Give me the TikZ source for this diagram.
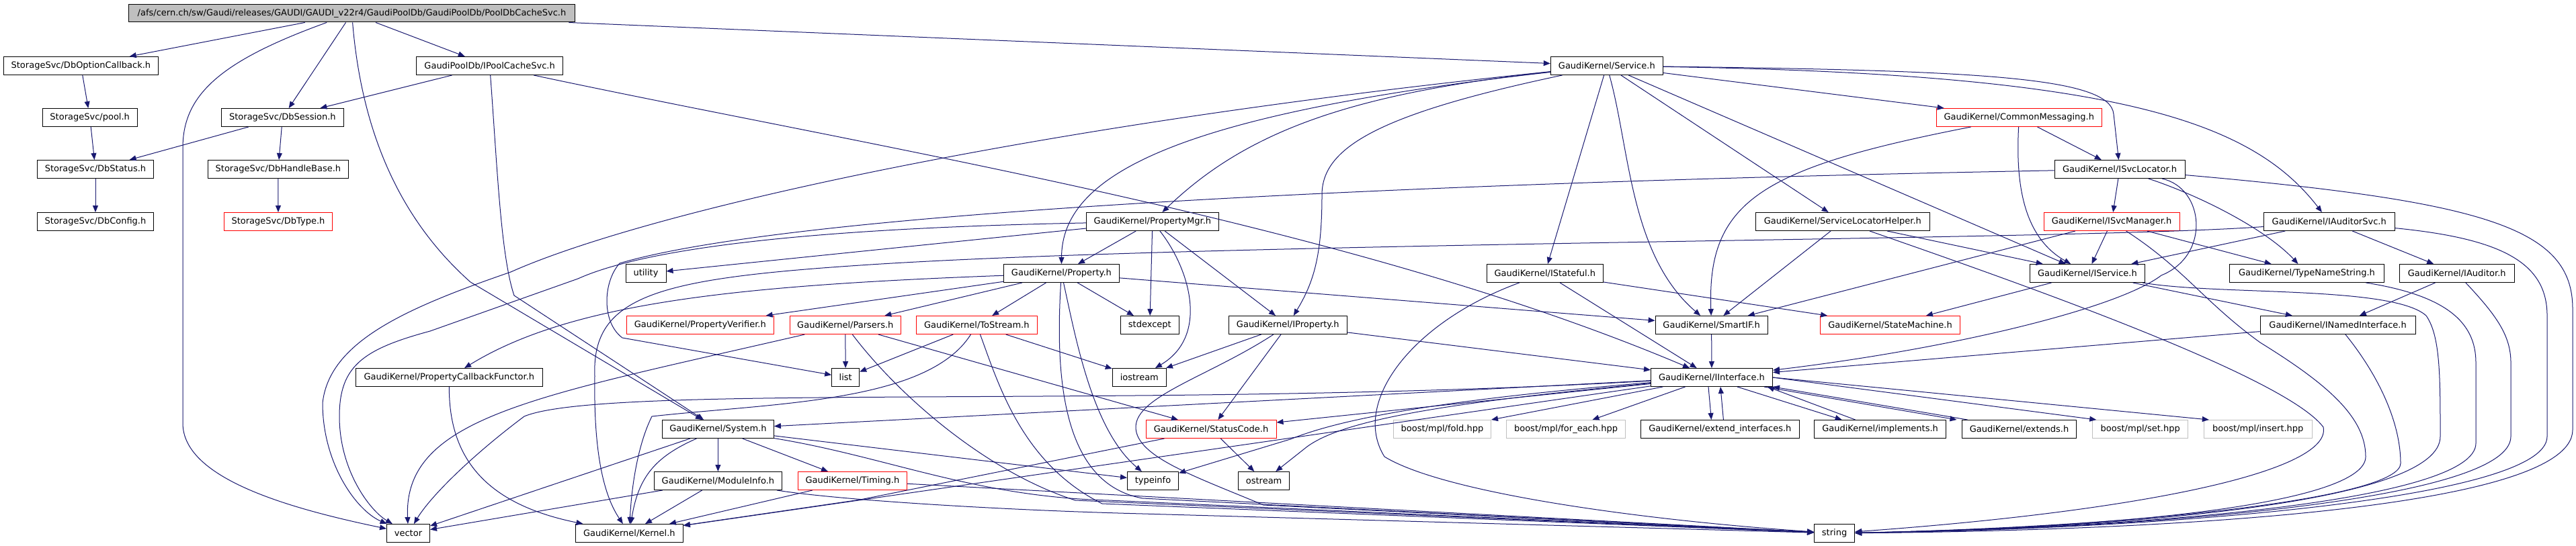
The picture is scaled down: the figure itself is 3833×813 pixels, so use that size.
\documentclass[tikz,border=0pt]{standalone}
\usepackage{fontspec}
\setmainfont{DejaVu Sans}
\usetikzlibrary{arrows.meta}
\definecolor{edgec}{HTML}{191970}
\definecolor{rootfill}{HTML}{BFBFBF}
\definecolor{grayb}{HTML}{BFBFBF}
\newcommand\nodefont{\fontsize{13}{15}\selectfont}
\begin{document}
\begin{tikzpicture}[x=1pt,y=-1pt,
  nb/.style={draw=black,line width=1pt,minimum height=27pt,inner sep=0pt,font=\nodefont,text=black,anchor=center},
  rb/.style={nb,draw=red},
  gb/.style={nb,draw=grayb},
  rt/.style={nb,fill=rootfill,minimum height=26pt},
  e/.style={draw=edgec,line width=1pt,-{Triangle[length=10pt,width=8pt]}}]
\useasboundingbox (0,0) rectangle (3833,813);
\fill[white] (0,0) rectangle (3833,813);
% nodes
\node[rt,minimum width=664pt] (root) at (523.5,20) {/afs/cern.ch/sw/Gaudi/releases/GAUDI/GAUDI\_v22r4/GaudiPoolDb/GaudiPoolDb/PoolDbCacheSvc.h};
\node[nb,minimum width=230pt] (dboc) at (120.4,98) {StorageSvc/DbOptionCallback.h};
\node[nb,minimum width=218pt] (ipcs) at (728.6,98) {GaudiPoolDb/IPoolCacheSvc.h};
\node[nb,minimum width=167pt] (svc) at (2390.8,98) {GaudiKernel/Service.h};
\node[nb,minimum width=141pt] (pool) at (133.7,175) {StorageSvc/pool.h};
\node[nb,minimum width=182pt] (dbsess) at (420.4,175) {StorageSvc/DbSession.h};
\node[rb,minimum width=246pt] (cmsg) at (3004.3,175) {GaudiKernel/CommonMessaging.h};
\node[nb,minimum width=173pt] (dbstat) at (142,252) {StorageSvc/DbStatus.h};
\node[nb,minimum width=209pt] (dbhb) at (413.9,252) {StorageSvc/DbHandleBase.h};
\node[nb,minimum width=194pt] (isl) at (3154,252) {GaudiKernel/ISvcLocator.h};
\node[nb,minimum width=173pt] (dbcfg) at (142,330) {StorageSvc/DbConfig.h};
\node[rb,minimum width=161pt] (dbtype) at (414,330) {StorageSvc/DbType.h};
\node[nb,minimum width=197pt] (pmgr) at (1714.9,330) {GaudiKernel/PropertyMgr.h};
\node[nb,minimum width=259pt] (slh) at (2741.8,330) {GaudiKernel/ServiceLocatorHelper.h};
\node[rb,minimum width=202pt] (ism) at (3142,330) {GaudiKernel/ISvcManager.h};
\node[nb,minimum width=195pt] (iasvc) at (3465.7,330) {GaudiKernel/IAuditorSvc.h};
\node[nb,minimum width=60pt] (util) at (961,407) {utility};
\node[nb,minimum width=172pt] (prop) at (1579.4,407) {GaudiKernel/Property.h};
\node[nb,minimum width=173pt] (istf) at (2298.8,407) {GaudiKernel/IStateful.h};
\node[nb,minimum width=171pt] (isvc) at (3105.9,407) {GaudiKernel/IService.h};
\node[nb,minimum width=230pt] (tns) at (3432.5,407) {GaudiKernel/TypeNameString.h};
\node[nb,minimum width=171pt] (iaud) at (3655.7,407) {GaudiKernel/IAuditor.h};
\node[rb,minimum width=219pt] (pver) at (1041.8,484) {GaudiKernel/PropertyVerifier.h};
\node[rb,minimum width=165pt] (pars) at (1257.8,484) {GaudiKernel/Parsers.h};
\node[rb,minimum width=180pt] (tost) at (1453.3,484) {GaudiKernel/ToStream.h};
\node[nb,minimum width=87pt] (stdex) at (1710.8,484) {stdexcept};
\node[nb,minimum width=176pt] (iprop) at (1916.3,484) {GaudiKernel/IProperty.h};
\node[nb,minimum width=167pt] (smif) at (2546.6,484) {GaudiKernel/SmartIF.h};
\node[rb,minimum width=208pt] (stm) at (2812.5,484) {GaudiKernel/StateMachine.h};
\node[nb,minimum width=231pt] (inamed) at (3478.6,484) {GaudiKernel/INamedInterface.h};
\node[nb,minimum width=278pt] (pcf) at (668.4,562) {GaudiKernel/PropertyCallbackFunctor.h};
\node[nb,minimum width=41pt] (list) at (1258.2,562) {list};
\node[nb,minimum width=80pt] (iostr) at (1695.3,562) {iostream};
\node[nb,minimum width=181pt] (iif) at (2547,562) {GaudiKernel/IInterface.h};
\node[nb,minimum width=166pt] (sys) at (1068.4,639) {GaudiKernel/System.h};
\node[rb,minimum width=194pt] (stc) at (1802,639) {GaudiKernel/StatusCode.h};
\node[gb,minimum width=145pt] (fold) at (2146,639) {boost/mpl/fold.hpp};
\node[gb,minimum width=177pt] (fore) at (2330,639) {boost/mpl/for\_each.hpp};
\node[nb,minimum width=236pt] (extif) at (2559.4,639) {GaudiKernel/extend\_interfaces.h};
\node[nb,minimum width=196pt] (impl) at (2797.6,639) {GaudiKernel/implements.h};
\node[nb,minimum width=170pt] (ext) at (3004.5,639) {GaudiKernel/extends.h};
\node[gb,minimum width=142pt] (mset) at (3184.7,639) {boost/mpl/set.hpp};
\node[gb,minimum width=161pt] (mins) at (3359.8,639) {boost/mpl/insert.hpp};
\node[nb,minimum width=190pt] (modi) at (1068.4,716) {GaudiKernel/ModuleInfo.h};
\node[rb,minimum width=162pt] (timing) at (1268.4,716) {GaudiKernel/Timing.h};
\node[nb,minimum width=76pt] (tinfo) at (1715.5,716) {typeinfo};
\node[nb,minimum width=76pt] (ostr) at (1880.6,716) {ostream};
\node[nb,minimum width=64pt] (vec) at (607.5,794) {vector};
\node[nb,minimum width=160pt] (kern) at (936.3,794) {GaudiKernel/Kernel.h};
\node[nb,minimum width=60pt] (str) at (2729.6,794) {string};
% root
\draw[e] (root) -- (dboc);
\draw[e] (root) .. controls (330,90) and (272,140) .. (272,220) -- (272,630) .. controls (272,710) and (420,755) .. (vec);
\draw[e] (root) -- (dbsess);
\draw[e] (root) .. controls (540,220) and (610,340) .. (700,420) -- (sys);
\draw[e] (root) -- (ipcs);
\draw[e] (root) -- (svc);
% storage
\draw[e] (dboc) -- (pool);
\draw[e] (pool) -- (dbstat);
\draw[e] (dbsess) -- (dbstat);
\draw[e] (dbsess) -- (dbhb);
\draw[e] (dbstat) -- (dbcfg);
\draw[e] (dbhb) -- (dbtype);
% IPoolCacheSvc
\draw[e] (ipcs) -- (dbsess);
\draw[e] (ipcs) .. controls (1300,220) and (2000,330) .. (iif);
\draw[e] (ipcs) .. controls (740,250) and (745,380) .. (765,440) -- (sys);
% Service
\draw[e] (svc) .. controls (1500,190) and (950,320) .. (760,405) .. controls (600,460) and (490,510) .. (480,600) .. controls (480,690) and (530,760) .. (vec);
\draw[e] (svc) .. controls (1750,170) and (1580,260) .. (prop);
\draw[e] (svc) .. controls (2000,140) and (1850,200) .. (pmgr);
\draw[e] (svc) .. controls (2050,170) and (1967,220) .. (1967,290) .. controls (1967,380) and (1955,420) .. (iprop);
\draw[e] (svc) -- (istf);
\draw[e] (svc) .. controls (2425,220) and (2425,380) .. (smif);
\draw[e] (svc) -- (slh);
\draw[e] (svc) -- (isvc);
\draw[e] (svc) .. controls (2950,105) and (3140,115) .. (3145,170) -- (isl);
\draw[e] (svc) .. controls (3150,110) and (3350,180) .. (iasvc);
\draw[e] (svc) -- (cmsg);
% PropertyMgr
\draw[e] (pmgr) -- (prop);
\draw[e] (pmgr) -- (stdex);
\draw[e] (pmgr) -- (iprop);
\draw[e] (pmgr) .. controls (1770,400) and (1800,500) .. (iostr);
\draw[e] (pmgr) -- (util);
\draw[e] (pmgr) .. controls (1200,340) and (960,370) .. (860,415) -- (640,493) .. controls (540,520) and (505,545) .. (505,620) .. controls (505,700) and (550,760) .. (vec);
% Property
\draw[e] (prop) -- (pars);
\draw[e] (prop) -- (tost);
\draw[e] (prop) -- (stdex);
\draw[e] (prop) .. controls (1600,500) and (1625,640) .. (tinfo);
\draw[e] (prop) .. controls (1570,560) and (1580,720) .. (1700,742) -- (str);
\draw[e] (prop) -- (pver);
\draw[e] (prop) .. controls (1100,425) and (850,450) .. (pcf);
\draw[e] (prop) -- (smif);
% Parsers
\draw[e] (pars) -- (list);
\draw[e] (pars) .. controls (800,590) and (600,620) .. (vec);
\draw[e] (pars) -- (stc);
\draw[e] (pars) .. controls (1330,580) and (1460,700) .. (1600,745) -- (str);
% ToStream
\draw[e] (tost) -- (list);
\draw[e] (tost) -- (iostr);
\draw[e] (tost) .. controls (1485,570) and (1520,690) .. (1640,750) -- (str);
\draw[e] (tost) .. controls (1380,600) and (1150,600) .. (970,620) .. controls (950,660) and (940,720) .. (kern);
% PCF
\draw[e] (pcf) .. controls (668,680) and (720,750) .. (kern);
% System
\draw[e] (sys) -- (modi);
\draw[e] (sys) -- (timing);
\draw[e] (sys) .. controls (975,680) and (950,710) .. (kern);
\draw[e] (sys) -- (vec);
\draw[e] (sys) -- (tinfo);
\draw[e] (sys) .. controls (1320,680) and (1450,740) .. (1650,745) -- (str);
% ModuleInfo, Timing, StatusCode
\draw[e] (modi) -- (kern);
\draw[e] (modi) -- (vec);
\draw[e] (modi) .. controls (1250,745) and (1500,760) .. (1700,765) -- (str);
\draw[e] (timing) -- (kern);
\draw[e] (timing) -- (str);
\draw[e] (stc) -- (ostr);
\draw[e] (stc) -- (1280,744) -- (kern);
% IInterface
\draw[e] (iif) -- (sys);
\draw[e] (iif) -- (stc);
\draw[e] (iif) -- (kern);
\draw[e] (iif) .. controls (2150,600) and (2000,625) .. (1945,665) -- (ostr);
\draw[e] (iif) .. controls (2150,595) and (2000,622) .. (1920,654) -- (tinfo);
\draw[e] (iif) .. controls (1700,610) and (900,570) .. (780,620) .. controls (700,680) and (640,740) .. (vec);
\draw[e] (iif) -- (fold);
\draw[e] (iif) -- (fore);
\draw[e] ([xshift=-5pt]iif.south) -- ([xshift=-13pt]extif.north);
\draw[e] ([xshift=5pt]extif.north) -- ([xshift=13pt]iif.south);
\draw[e] ([xshift=38pt]iif.south) -- ([xshift=-57pt]impl.north);
\draw[e] ([xshift=-37pt]impl.north) -- ([xshift=83pt]iif.south);
\draw[e] ([xshift=78pt]iif.south) -- ([xshift=-93pt]ext.north);
\draw[e] ([xshift=-77pt]ext.north) -- (iif.south east);
\draw[e] (iif.east) -- ([xshift=6pt]mset.north west);
\draw[e] (iif.east) -- ([xshift=8pt]mins.north west);
% SmartIF, IStateful, IProperty
\draw[e] (smif) -- (iif);
\draw[e] (istf) -- (iif);
\draw[e] (istf) -- (stm);
\draw[e] (istf) .. controls (2100,480) and (2010,600) .. (2060,680) .. controls (2150,735) and (2450,775) .. (str);
\draw[e] (iprop) -- (iif);
\draw[e] (iprop) -- (iostr);
\draw[e] (iprop) -- (stc);
\draw[e] (iprop) .. controls (1800,560) and (1690,590) .. (1690,636) .. controls (1690,680) and (1780,710) .. (1880,752) -- (str);
% IService, ISvcManager, IAuditorSvc, IAuditor, TypeNameString, INamedInterface
\draw[e] (isvc) -- (stm);
\draw[e] (isvc) -- (inamed);
\draw[e] (isvc) .. controls (3300,440) and (3560,425) .. (3610,470) .. controls (3631,500) and (3631,560) .. (3631,650) .. controls (3631,745) and (3200,785) .. (str);
\draw[e] (ism) -- (isvc);
\draw[e] (ism) -- (tns);
\draw[e] (ism) -- (smif);
\draw[e] (ism) .. controls (3250,400) and (3280,450) .. (3363,510) .. controls (3460,570) and (3520,620) .. (3520,680) .. controls (3520,745) and (3200,785) .. (str);
\draw[e] (iasvc) -- (isvc);
\draw[e] (iasvc) -- (iaud);
\draw[e] (iasvc) .. controls (3720,355) and (3790,390) .. (3790,470) -- (3790,650) .. controls (3790,745) and (3200,788) .. (str);
\draw[e] (iasvc) .. controls (3100,358) and (1800,360) .. (1280,395) .. controls (980,415) and (880,440) .. (885,560) .. controls (883,680) and (900,740) .. (kern);
\draw[e] (iaud) -- (inamed);
\draw[e] (iaud) .. controls (3715,470) and (3736,500) .. (3736,540) -- (3736,650) .. controls (3736,745) and (3200,787) .. (str);
\draw[e] (tns) .. controls (3640,440) and (3684,480) .. (3684,540) -- (3684,660) .. controls (3684,745) and (3200,786) .. (str);
\draw[e] (inamed) -- (iif);
\draw[e] (inamed) .. controls (3540,560) and (3572,630) .. (3572,690) .. controls (3572,740) and (3200,784) .. (str);
% CommonMessaging
\draw[e] (cmsg) -- (isl);
\draw[e] (cmsg) .. controls (3000,260) and (3005,350) .. (isvc);
\draw[e] (cmsg) .. controls (2620,250) and (2540,300) .. (smif);
% ISvcLocator
\draw[e] (isl) -- (ism);
\draw[e] (isl) .. controls (3270,290) and (3370,340) .. (tns);
\draw[e] (isl) .. controls (3280,280) and (3290,380) .. (3216,410) .. controls (3150,460) and (2900,520) .. (iif);
\draw[e] (isl) .. controls (3700,300) and (3828,340) .. (3828,460) -- (3828,640) .. controls (3828,760) and (3200,790) .. (str);
\draw[e] (isl) .. controls (2200,270) and (1200,310) .. (922,392) .. controls (897,420) and (895,480) .. (926,503) -- (list);
% ServiceLocatorHelper
\draw[e] (slh) -- (isvc);
\draw[e] (slh) -- (smif);
\draw[e] (slh) .. controls (3000,420) and (3400,560) .. (3457,636) .. controls (3470,700) and (3200,760) .. (str);
\end{tikzpicture}
\end{document}
